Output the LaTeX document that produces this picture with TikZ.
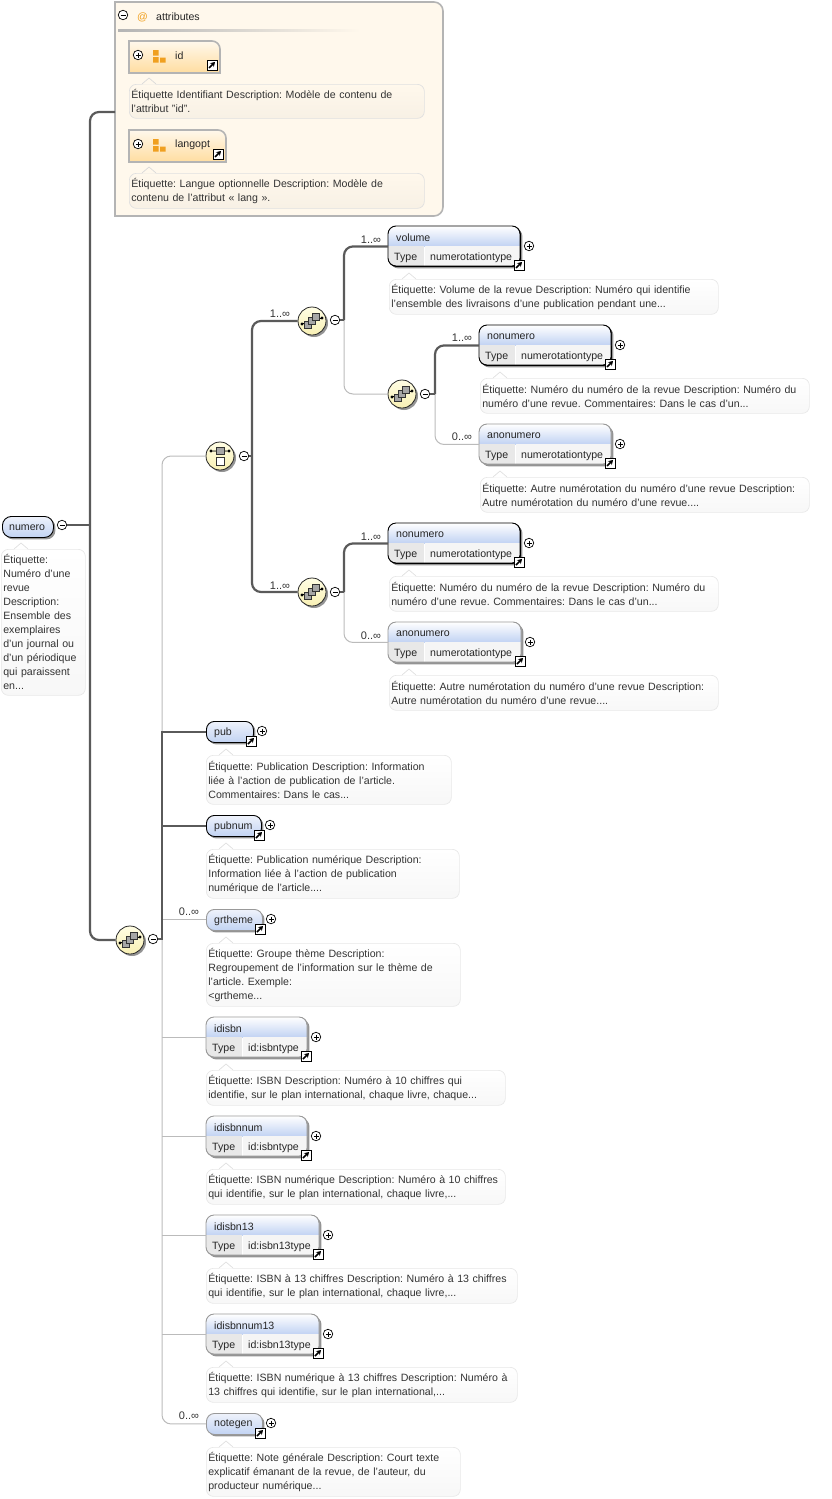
\documentclass[tikz,border=0pt]{standalone}
\usepackage{fontspec}
\setmainfont{Liberation Sans}
\usetikzlibrary{arrows.meta,shadows}
\definecolor{linedark}{HTML}{5A5A5A}
\definecolor{linelight}{HTML}{BBBBBB}
\definecolor{attrcream}{HTML}{FFF8EC}
\definecolor{attrline}{HTML}{B4B4B4}
\definecolor{attrorange}{HTML}{F0A020}
\definecolor{attrbottom}{HTML}{FFDDA0}
\definecolor{elemblue}{HTML}{C2D3F3}
\definecolor{elemtop}{HTML}{EEF2FB}
\definecolor{compyellow}{HTML}{F8F0B4}
\definecolor{comptop}{HTML}{FFFDE4}
\newcommand{\elemfont}{\fontsize{10.6}{14}\selectfont}
\tikzset{
    thickline/.style={linedark,line width=2.2pt,rounded corners=9pt},
    thinline/.style={linelight,line width=1pt,rounded corners=9pt},
    reqelem/.style={draw=black,line width=0.9pt},
    optelem/.style={draw=black!40,line width=0.9pt},
    elemshadow/.style={drop shadow={shadow xshift=2pt,shadow yshift=-2pt,fill=black,opacity=0.42}},
    elemtext/.style={font=\elemfont,anchor=west,inner sep=0pt,text=black!85},
    mult/.style={font=\fontsize{11}{14}\selectfont,inner sep=0pt,text=black!80},
    plusbtn/.style={circle,draw=black,fill=white,line width=0.7pt,minimum size=9.5pt,inner sep=0pt,
        path picture={\draw[line width=0.7pt] (path picture bounding box.center) +(-2.5,0) -- +(2.5,0) +(0,-2.5) -- +(0,2.5);}},
    minusbtn/.style={circle,draw=black,fill=white,line width=0.7pt,minimum size=9.5pt,inner sep=0pt,
        path picture={\draw[line width=0.7pt] (path picture bounding box.center) +(-2.5,0) -- +(2.5,0);}},
    linkbox/.style={draw=black,fill=white,line width=1pt,minimum size=10pt,inner sep=0pt},
    annot/.style={draw=black!9,line width=0.7pt,rounded corners=7pt,top color=white,bottom color=black!3,
        anchor=north west,align=left,font=\elemfont,text=black!80,inner xsep=2pt,inner ysep=0pt},
    attrannot/.style={annot,draw=black!12,top color=attrcream,bottom color=black!3!attrcream},
    compnode/.style={circle,draw=black!85,line width=0.8pt,minimum size=28pt,inner sep=0pt,
        top color=comptop,bottom color=compyellow,elemshadow},
    seqnode/.style={compnode,
        path picture={
            \coordinate (c) at (path picture bounding box.center);
            \draw[black,line width=0.8pt,fill=black] ([shift={(-10,3)}]c) circle (1.1pt) -- ++(20,-6) circle (1.1pt);
            \foreach \d in {-4,0,4} {\draw[black!80,fill=black!35,line width=0.7pt] ([shift={(\d-3.5,-\d-3.5)}]c) rectangle ++(7,7);}
        }},
    choicenode/.style={compnode,
        path picture={
            \coordinate (c) at (path picture bounding box.center);
            \draw[black,line width=0.8pt,fill=black] ([shift={(-9,-5)}]c) circle (1.1pt) -- ++(18,0) circle (1.1pt);
            \draw[black!80,fill=black!35,line width=0.7pt] ([shift={(-4,-9)}]c) rectangle ++(8,7);
            \draw[black!80,fill=white,line width=0.7pt] ([shift={(-4,1)}]c) rectangle ++(8,8);
        }}
}
% the small arrow box
\newcommand{\linkicon}[3]{
    \node[linkbox] (#1) at (#2,#3) {};
    \draw[-{Stealth[length=4.5pt,width=5.5pt]},line width=1.5pt] (#2-3,#3+3) -- (#2+3,#3-3);
}
% name, x, y, width, line style, text
\newcommand{\simpleelem}[6]{
    \node[#5,elemshadow,rounded corners=8pt,top color=elemtop,bottom color=elemblue,anchor=north west,minimum width=#4pt,minimum height=21pt,inner sep=0pt] (#1) at (#2,#3) {};
    \node[elemtext] (#1Name) at (#2+8,#3+11.5) {#6};
    \node[plusbtn] (#1Plus) at (#2+#4+9,#3+10) {};
    \linkicon{#1Link}{#2+#4-2}{#3+20}
}
% name, x, y, width, line style, text, type
\newcommand{\typedelem}[7]{
    \node[#5,elemshadow,rounded corners=8pt,fill=white,anchor=north west,minimum width=#4pt,minimum height=40pt,inner sep=0pt] (#1) at (#2,#3) {};
    \begin{scope}
        \clip[rounded corners=8pt] (#2,#3) rectangle ++(#4,40);
        \path[top color=white,bottom color=elemblue] (#2,#3) rectangle ++(#4,20);
        \fill[black!9] (#2,#3+20) rectangle ++(36,20);
        \fill[black!4] (#2+37,#3+20) rectangle ++(#4-37,20);
    \end{scope}
    \draw[#5,rounded corners=8pt] (#2,#3) rectangle ++(#4,40);
    \node[elemtext] (#1Name) at (#2+8,#3+11.5) {#6};
    \node[elemtext] (#1Label) at (#2+6,#3+31.5) {Type};
    \node[elemtext] (#1Type) at (#2+42,#3+31.5) {#7};
    \node[plusbtn] (#1Plus) at (#2+#4+9,#3+20) {};
    \linkicon{#1Link}{#2+#4-1}{#3+39}
}
% name, x, y, width, height, text
\newcommand{\annotbox}[6]{
    \node[annot,minimum width=#4pt,minimum height=#5pt,text width=#4pt-4pt] (#1) at (#2,#3) {#6};
    \fill[white] (#2+13,#3+0.5) -- (#2+20,#3-6) -- (#2+27,#3+0.5) -- cycle;
    \draw[black!12,line width=0.7pt] (#2+13,#3) -- (#2+20,#3-6) -- (#2+27,#3);
}
\newcommand{\attrannotbox}[6]{
    \node[attrannot,minimum width=#4pt,minimum height=#5pt,text width=#4pt-4pt] (#1) at (#2,#3) {#6};
    \fill[attrcream] (#2+13,#3+0.5) -- (#2+20,#3-6) -- (#2+27,#3+0.5) -- cycle;
    \draw[black!15,line width=0.7pt] (#2+13,#3) -- (#2+20,#3-6) -- (#2+27,#3);
}
% name, x, y, width, text
\newcommand{\attrelem}[5]{
    \draw[attrline,line width=1.6pt,top color=attrcream,bottom color=attrbottom] (#2,#3) -- (#2+#4-8,#3) [rounded corners=8pt] -- (#2+#4,#3) [sharp corners] -- (#2+#4,#3+32) -- (#2,#3+32) -- cycle;
    \node[plusbtn] (#1Plus) at (#2+9,#3+14) {};
    \fill[attrorange] (#2+24,#3+9) rectangle ++(5.5,5.5) (#2+24,#3+16) rectangle ++(5.5,5.5) (#2+31,#3+16.5) rectangle ++(5.5,5);
    \node[elemtext] (#1Name) at (#2+46,#3+15) {#5};
}
\begin{document}
\frenchspacing
\begin{tikzpicture}[x=1pt,y=-1pt]
    \useasboundingbox (0,0) rectangle (832,1499);
    % attributes
    \draw[attrline,line width=1.6pt,fill=attrcream] (115,2) -- (433,2) [rounded corners=9pt] -- (443,2) -- (443,216) [sharp corners] -- (115,216) -- cycle;
    \path[left color=attrline,right color=attrcream] (118,29.5) rectangle (360,31);
    \node[minusbtn] (attributesMinus) at (123,15) {};
    \node[elemtext,text=attrorange] (attributesAt) at (137,17) {@};
    \node[elemtext] (attributesName) at (156,17) {attributes};
    \attrelem{id}{129}{41}{91}{id}
    \linkicon{idLink}{212}{65}
    \attrannotbox{idNote}{129}{84}{295}{34}{Étiquette Identifiant Description: Modèle de contenu de\\l’attribut ”id”.}
    \attrelem{langopt}{129}{130}{97}{langopt}
    \linkicon{langoptLink}{218}{154}
    \attrannotbox{langoptNote}{129}{173}{295}{35}{Étiquette: Langue optionnelle Description: Modèle de\\contenu de l’attribut « lang ».}
    \coordinate (attributesIn) at (115,112);
    % root
    \node[reqelem,elemshadow,rounded corners=9pt,top color=elemtop,bottom color=elemblue,anchor=north west,minimum width=51pt,minimum height=21pt,inner sep=0pt] (numero) at (2,516) {};
    \node[elemtext] (numeroName) at (9,527.5) {numero};
    \node[minusbtn] (numeroMinus) at (62,525) {};
    \annotbox{numeroNote}{1}{549}{84}{146}{Étiquette:\\Numéro d’une\\revue\\Description:\\Ensemble des\\exemplaires\\d'un journal ou\\d'un périodique\\qui paraissent\\en...}
    % groups
    \node[seqnode] (mainSeq) at (130,940) {};
    \node[minusbtn] (mainSeqMinus) at (153,939) {};
    \node[choicenode] (mainChoice) at (220,456) {};
    \node[minusbtn] (mainChoiceMinus) at (244,456) {};
    \node[seqnode] (seqA) at (312,321) {};
    \node[minusbtn] (seqAMinus) at (335,320) {};
    \node[seqnode] (seqB) at (402,394) {};
    \node[minusbtn] (seqBMinus) at (425,394) {};
    \node[seqnode] (seqC) at (312,592) {};
    \node[minusbtn] (seqCMinus) at (335,592) {};
    % elements
    \typedelem{volume}{388}{226}{132}{reqelem}{volume}{numerotationtype}
    \annotbox{volumeNote}{389}{279}{329}{35}{Étiquette: Volume de la revue Description: Numéro qui identifie\\l’ensemble des livraisons d'une publication pendant une...}
    \typedelem{nonumeroA}{479}{325}{132}{reqelem}{nonumero}{numerotationtype}
    \annotbox{nonumeroANote}{480}{378}{329}{35}{Étiquette: Numéro du numéro de la revue Description: Numéro du\\numéro d’une revue. Commentaires: Dans le cas d’un...}
    \typedelem{anonumeroA}{479}{424}{132}{optelem}{anonumero}{numerotationtype}
    \annotbox{anonumeroANote}{480}{477}{329}{35}{Étiquette: Autre numérotation du numéro d'une revue Description:\\Autre numérotation du numéro d’une revue....}
    \typedelem{nonumeroB}{388}{523}{132}{reqelem}{nonumero}{numerotationtype}
    \annotbox{nonumeroBNote}{389}{576}{329}{35}{Étiquette: Numéro du numéro de la revue Description: Numéro du\\numéro d’une revue. Commentaires: Dans le cas d’un...}
    \typedelem{anonumeroB}{388}{622}{133}{optelem}{anonumero}{numerotationtype}
    \annotbox{anonumeroBNote}{389}{675}{329}{35}{Étiquette: Autre numérotation du numéro d'une revue Description:\\Autre numérotation du numéro d’une revue....}
    \simpleelem{pub}{206}{721}{47}{reqelem}{pub}
    \annotbox{pubNote}{206}{755}{245}{49}{Étiquette: Publication Description: Information\\liée à l'action de publication de l'article.\\Commentaires: Dans le cas...}
    \simpleelem{pubnum}{206}{815}{55}{reqelem}{pubnum}
    \annotbox{pubnumNote}{206}{849}{253}{49}{Étiquette: Publication numérique Description:\\Information liée à l'action de publication\\numérique de l'article....}
    \simpleelem{grtheme}{206}{909}{56}{optelem}{grtheme}
    \annotbox{grthemeNote}{206}{943}{254}{63}{Étiquette: Groupe thème Description:\\Regroupement de l’information sur le thème de\\l’article. Exemple:\\<grtheme...}
    \typedelem{idisbn}{206}{1017}{101}{optelem}{idisbn}{id:isbntype}
    \annotbox{idisbnNote}{206}{1070}{299}{35}{Étiquette: ISBN Description: Numéro à 10 chiffres qui\\identifie, sur le plan international, chaque livre, chaque...}
    \typedelem{idisbnnum}{206}{1116}{101}{optelem}{idisbnnum}{id:isbntype}
    \annotbox{idisbnnumNote}{206}{1169}{299}{35}{Étiquette: ISBN numérique Description: Numéro à 10 chiffres\\qui identifie, sur le plan international, chaque livre,...}
    \typedelem{idisbnA}{206}{1215}{113}{optelem}{idisbn13}{id:isbn13type}
    \annotbox{idisbnANote}{206}{1268}{311}{35}{Étiquette: ISBN à 13 chiffres Description: Numéro à 13 chiffres\\qui identifie, sur le plan international, chaque livre,...}
    \typedelem{idisbnnumA}{206}{1314}{113}{optelem}{idisbnnum13}{id:isbn13type}
    \annotbox{idisbnnumANote}{206}{1367}{311}{35}{Étiquette: ISBN numérique à 13 chiffres Description: Numéro à\\13 chiffres qui identifie, sur le plan international,...}
    \simpleelem{notegen}{206}{1413}{56}{optelem}{notegen}
    \annotbox{notegenNote}{206}{1447}{254}{49}{Étiquette: Note générale Description: Court texte\\explicatif émanant de la revue, de l’auteur, du\\producteur numérique...}
    % multiplicities
    \node[mult] (volumeMult) at (371,240) {1..∞};
    \node[mult] (nonumeroAMult) at (462,338) {1..∞};
    \node[mult] (anonumeroAMult) at (462,437) {0..∞};
    \node[mult] (seqAMult) at (280,314) {1..∞};
    \node[mult] (seqCMult) at (280,586) {1..∞};
    \node[mult] (nonumeroBMult) at (371,537) {1..∞};
    \node[mult] (anonumeroBMult) at (371,636) {0..∞};
    \node[mult] (grthemeMult) at (189,912) {0..∞};
    \node[mult] (notegenMult) at (189,1416) {0..∞};
    % connectors
    \coordinate (mainBus) at (90,525);
    \coordinate (elemBus) at (162,939);
    \coordinate (choiceBus) at (252,456);
    \coordinate (seqABus) at (344,320);
    \coordinate (seqBBus) at (435,394);
    \coordinate (seqCBus) at (344,592);
    \draw[thickline] (numeroMinus) -- (mainBus);
    \draw[thickline] (attributesIn) -| (mainBus) |- (mainSeq.west);
    \draw[thinline] (mainChoice.west) -| (elemBus) |- (notegen.west);
    \draw[thinline,sharp corners] (elemBus |- grtheme.west) -- (grtheme.west);
    \draw[thinline,sharp corners] (elemBus |- idisbn.west) -- (idisbn.west);
    \draw[thinline,sharp corners] (elemBus |- idisbnnum.west) -- (idisbnnum.west);
    \draw[thinline,sharp corners] (elemBus |- idisbnA.west) -- (idisbnA.west);
    \draw[thinline,sharp corners] (elemBus |- idisbnnumA.west) -- (idisbnnumA.west);
    \draw[thickline,sharp corners] (mainSeqMinus) -- (elemBus) |- (pub.west);
    \draw[thickline,sharp corners] (elemBus |- pubnum.west) -- (pubnum.west);
    \draw[thickline] (mainChoiceMinus) -- (choiceBus);
    \draw[thickline] (seqA.west) -| (choiceBus) |- (seqC.west);
    \draw[thinline] (seqABus) |- (seqB.west);
    \draw[thickline] (seqAMinus) -- (seqABus);
    \draw[thickline] (seqABus) |- (volume.west);
    \draw[thinline] (seqBBus) |- (anonumeroA.west);
    \draw[thickline] (seqBMinus) -- (seqBBus);
    \draw[thickline] (seqBBus) |- (nonumeroA.west);
    \draw[thinline] (seqCBus) |- (anonumeroB.west);
    \draw[thickline] (seqCMinus) -- (seqCBus);
    \draw[thickline] (seqCBus) |- (nonumeroB.west);
\end{tikzpicture}
\end{document}
